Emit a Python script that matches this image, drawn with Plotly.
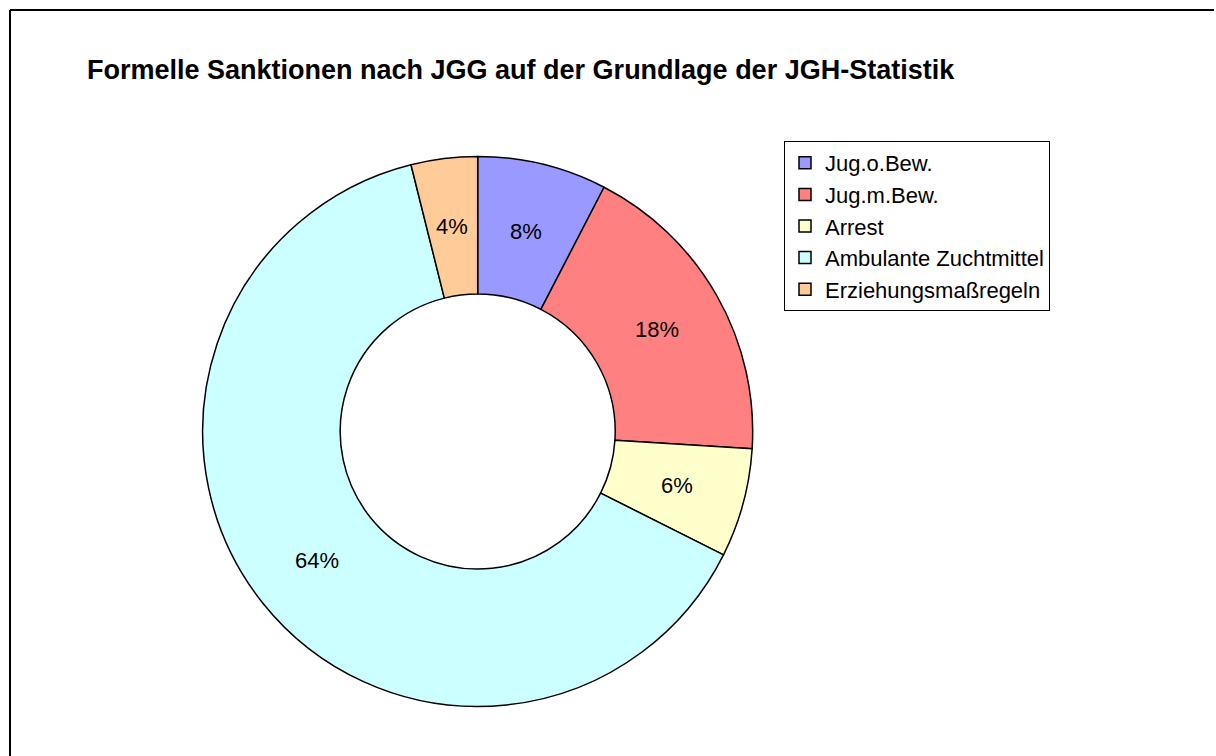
import math
import plotly.graph_objects as go

# Formal sanctions under the JGG (Jugendgerichtshilfe statistics), shares in percent
categories = ["Jug.o.Bew.", "Jug.m.Bew.", "Arrest", "Ambulante Zuchtmittel", "Erziehungsmaßregeln"]
shares = [7.6, 18.4, 6.4, 63.7, 3.9]
colors = ["#9999FF", "#FF8080", "#FFFFCC", "#CCFFFF", "#FFCC99"]

W, H = 1216, 756
FONT = "Liberation Sans, Arial, sans-serif"

# Donut geometry in pixels
cx, cy, r = 477.7, 431.5, 275.0
HOLE = 0.5

fig = go.Figure(
    go.Pie(
        labels=categories,
        values=shares,
        sort=False,
        direction="clockwise",
        rotation=0,
        hole=HOLE,
        marker=dict(colors=colors, line=dict(color="#000000", width=1.5)),
        textinfo="none",
        domain=dict(
            x=[(cx - r) / W, (cx + r) / W],
            y=[(H - cy - r) / H, (H - cy + r) / H],
        ),
        hoverinfo="label+percent",
    )
)

# Percentage labels at the middle of each ring sector
total = sum(shares)
label_r = r * (1 + HOLE) / 2
annotations = []
cum = 0.0
for v in shares:
    mid = (cum + v / 2) / total * 2 * math.pi
    cum += v
    px = cx + label_r * math.sin(mid)
    py = cy - label_r * math.cos(mid)
    annotations.append(
        dict(
            x=px / W,
            y=1 - py / H,
            xref="paper",
            yref="paper",
            text=f"{round(v / total * 100)}%",
            showarrow=False,
            font=dict(family=FONT, size=22, color="#000000"),
            xanchor="center",
            yanchor="middle",
        )
    )

fig.update_layout(
    width=W,
    height=H,
    margin=dict(l=0, r=0, t=0, b=0),
    paper_bgcolor="#FFFFFF",
    plot_bgcolor="#FFFFFF",
    font=dict(family=FONT, color="#000000"),
    title=dict(
        text="Formelle Sanktionen nach JGG auf der Grundlage der JGH-Statistik",
        font=dict(family=FONT, size=27, color="#000000", weight="bold"),
        xref="paper",
        yref="paper",
        x=87 / W,
        xanchor="left",
        y=1 - 70 / H,
        yanchor="middle",
    ),
    legend=dict(
        xref="paper",
        yref="paper",
        x=784 / W,
        y=1 - 141 / H,
        xanchor="left",
        yanchor="top",
        bgcolor="#FFFFFF",
        bordercolor="#000000",
        borderwidth=1,
        font=dict(family=FONT, size=22, color="#000000"),
        itemwidth=30,
        traceorder="normal",
    ),
    annotations=annotations,
    shapes=[
        # chart-area frame (top and left edges)
        dict(type="line", xref="paper", yref="paper",
             x0=10 / W, x1=1214 / W, y0=1 - 10 / H, y1=1 - 10 / H,
             line=dict(color="#000000", width=2)),
        dict(type="line", xref="paper", yref="paper",
             x0=10 / W, x1=10 / W, y0=0.0, y1=1 - 10 / H,
             line=dict(color="#000000", width=2)),
    ],
)

fig.write_html("out.html")
